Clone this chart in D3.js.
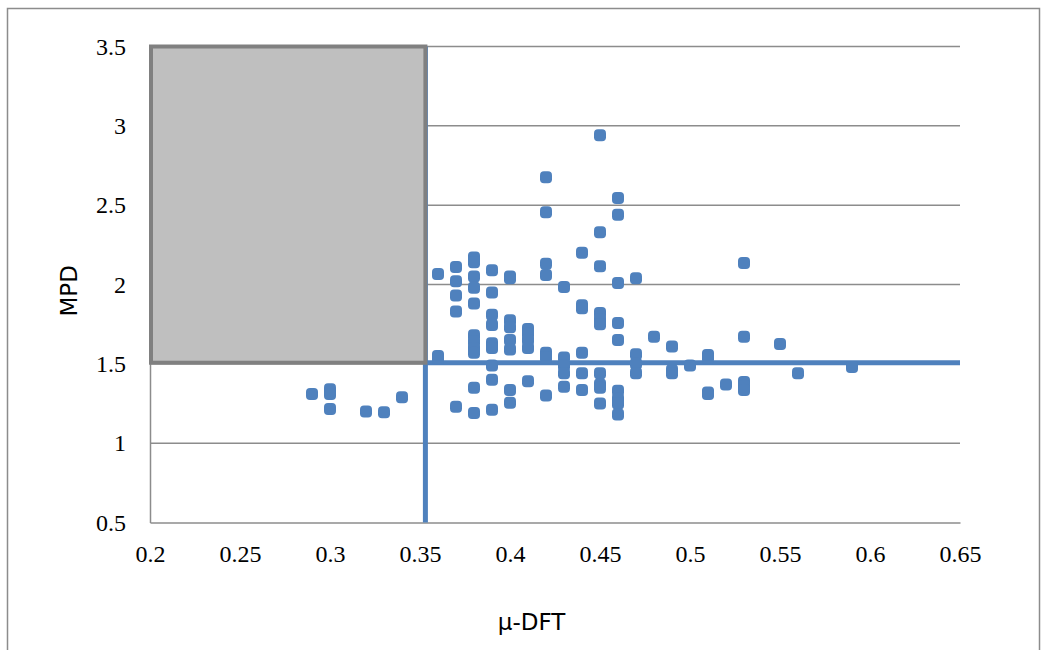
<!DOCTYPE html>
<html><head><meta charset="utf-8">
<script src="https://cdn.jsdelivr.net/npm/d3@7"></script>
<style>body{margin:0;background:#fff}svg{display:block}</style>
</head><body>
<svg id="chart" width="1046" height="650"></svg>
<script>
// Data
const mu_dft = [
  0.29,
  0.30,0.30,0.30,
  0.32,0.33,0.34,
  0.36,0.36,0.36,
  0.37,0.37,0.37,0.37,0.37,
  0.38,0.38,0.38,0.38,0.38,0.38,0.38,0.38,0.38,0.38,0.38,
  0.39,0.39,0.39,0.39,0.39,0.39,0.39,0.39,0.39,
  0.40,0.40,0.40,0.40,0.40,0.40,0.40,0.40,
  0.41,0.41,0.41,0.41,0.41,
  0.42,0.42,0.42,0.42,0.42,0.42,0.42,
  0.43,0.43,0.43,0.43,0.43,
  0.44,0.44,0.44,0.44,0.44,0.44,
  0.45,0.45,0.45,0.45,0.45,0.45,0.45,0.45,0.45,0.45,
  0.46,0.46,0.46,0.46,0.46,0.46,0.46,0.46,0.46,
  0.47,0.47,0.47,0.47,
  0.48,
  0.49,0.49,0.49,
  0.50,
  0.51,0.51,0.51,0.51,
  0.52,
  0.53,0.53,0.53,0.53,0.53,
  0.55,0.56,0.59
];
const mpd = [
  1.31,
  1.34,1.31,1.215,
  1.20,1.195,1.29,
  2.066,1.55,1.535,
  2.11,2.02,1.93,1.83,1.23,
  2.17,2.14,2.05,1.98,1.88,1.68,1.64,1.60,1.57,1.35,1.19,
  2.09,1.95,1.81,1.745,1.63,1.60,1.49,1.40,1.21,
  2.05,2.04,1.775,1.73,1.65,1.59,1.335,1.255,
  1.72,1.69,1.65,1.60,1.39,
  2.676,2.455,2.13,2.06,1.57,1.54,1.30,
  1.985,1.54,1.49,1.44,1.355,
  2.20,1.87,1.85,1.57,1.44,1.335,
  2.94,2.33,2.115,1.82,1.78,1.75,1.44,1.37,1.35,1.25,
  2.545,2.44,2.01,1.757,1.65,1.33,1.28,1.25,1.18,
  2.04,1.56,1.50,1.44,
  1.67,
  1.61,1.46,1.44,
  1.49,
  1.555,1.54,1.32,1.31,
  1.37,
  2.135,1.67,1.385,1.36,1.335,
  1.625,1.44,1.48
];
const xTicks = [0.2,0.25,0.3,0.35,0.4,0.45,0.5,0.55,0.6,0.65];
const yTicks = [0.5,1,1.5,2,2.5,3,3.5];
const xThreshold = 0.353;
const yThreshold = 1.507;
const xTitle = "μ-DFT";
const yTitle = "MPD";

const svg = d3.select("#chart");
const x = d3.scaleLinear().domain([0.2,0.65]).range([150,960]);
const y = d3.scaleLinear().domain([0.5,3.5]).range([522.5,46.5]);

// outer border
svg.append("rect").attr("x",7.5).attr("y",8.5).attr("width",1032).attr("height",650)
  .attr("fill","#fff").attr("stroke","#8c8c8c").attr("stroke-width",1.5);

// gridlines
svg.append("g").selectAll("line").data(yTicks.slice(1)).join("line")
  .attr("x1",x(0.2)).attr("x2",x(0.65)).attr("y1",d=>y(d)).attr("y2",d=>y(d))
  .attr("stroke","#8c8c8c").attr("stroke-width",1.5);

// axes
const yAxis = svg.append("g").attr("transform",`translate(${x(0.2)},0)`)
  .call(d3.axisLeft(y).tickValues(yTicks).tickSize(0).tickPadding(24).tickFormat(d=>String(d)));
const xAxis = svg.append("g").attr("transform",`translate(0,${y(0.5)})`)
  .call(d3.axisBottom(x).tickValues(xTicks).tickSize(0).tickPadding(22).tickFormat(d=>String(d)));
[yAxis,xAxis].forEach(a=>{
  a.select(".domain").attr("stroke","#8c8c8c").attr("stroke-width",1.5);
  a.selectAll("text").attr("font-family","'Liberation Serif','Times New Roman',serif")
    .attr("font-size",24).attr("fill","#000");
});

// threshold lines
svg.append("line").attr("x1",x(xThreshold)).attr("x2",x(xThreshold))
  .attr("y1",y(3.5)).attr("y2",y(0.5)).attr("stroke","#4F81BD").attr("stroke-width",5);
svg.append("line").attr("x1",x(xThreshold)).attr("x2",x(0.65))
  .attr("y1",y(yThreshold)).attr("y2",y(yThreshold)).attr("stroke","#4F81BD").attr("stroke-width",5);

// grey box
svg.append("rect").attr("x",x(0.2)+1).attr("y",y(3.5))
  .attr("width",x(xThreshold)-x(0.2)-1).attr("height",y(yThreshold)-y(3.5))
  .attr("fill","#BFBFBF").attr("stroke","#808080").attr("stroke-width",4);

// points
const pts = mu_dft.map((v,i)=>({x:v,y:mpd[i]}));
const s = 12;
svg.append("g").selectAll("rect").data(pts).join("rect")
  .attr("x",d=>x(d.x)-s/2).attr("y",d=>y(d.y)-s/2)
  .attr("width",s).attr("height",s).attr("rx",4)
  .attr("fill","#4F81BD");

// axis titles
svg.append("text").attr("x",x(0.412)).attr("y",630).attr("text-anchor","middle")
  .attr("font-family","'DejaVu Sans',sans-serif").attr("font-size",23).attr("fill","#000").text(xTitle);
svg.append("text").attr("transform",`translate(77,${y(1.96)}) rotate(-90)`).attr("text-anchor","middle")
  .attr("font-family","'DejaVu Sans',sans-serif").attr("font-size",23).attr("fill","#000").text(yTitle);
</script>
</body></html>
